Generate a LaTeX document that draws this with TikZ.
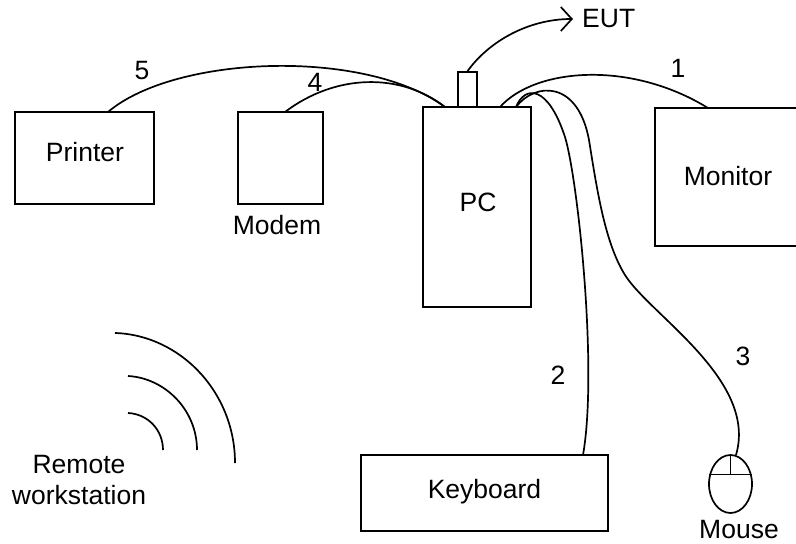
\documentclass[tikz,border=0pt]{standalone}
\usepackage{fontspec}
\setmainfont{Liberation Sans}
\usetikzlibrary{arrows.meta,shapes.geometric}
\tikzset{
	box/.style={draw,line width=1.7pt,rectangle,inner sep=0pt},
	lbl/.style={inner sep=0pt,font=\fontsize{26.5}{31}\selectfont,align=center},
	wire/.style={line width=1.7pt},
}
\begin{document}
\begin{tikzpicture}[x=1pt,y=-1pt]
	\useasboundingbox (0,0) rectangle (796,544);
	% boxes
	\node[box,minimum width=139pt,minimum height=92pt] (printer) at (84.5,158) {};
	\node[box,minimum width=85pt,minimum height=92pt] (modem) at (280.5,158) {};
	\node[box,minimum width=108pt,minimum height=200pt] (pc) at (477,207) {};
	\node[box,minimum width=19pt,minimum height=35pt] (plug) at (467.5,89.5) {};
	\node[box,minimum width=146pt,minimum height=138pt] (monitor) at (728,177) {};
	\node[box,minimum width=247pt,minimum height=76pt] (keyboard) at (484.5,493) {};
	\node[draw,line width=1.7pt,ellipse,inner sep=0pt,minimum width=43pt,minimum height=58pt] (mouse) at (730.5,484) {};
	\draw[wire] (mouse.156) -- (mouse.24);
	\coordinate (split) at (730.5,475);
	\draw[wire] (split) -- (mouse.north);
	% wire ends
	\coordinate (pcA) at (445,107);
	\coordinate (pcB) at (500,107);
	\coordinate (pcC) at (516,107);
	\coordinate (eut) at (573,19);
	\coordinate (prtEnd) at (108,112);
	\coordinate (mdmEnd) at (285,112);
	\coordinate (monEnd) at (708,108);
	\coordinate (kbdEnd) at (583,455);
	\coordinate (musEnd) at (736,455);
	% cables
	\draw[wire] (prtEnd) .. controls (175,55) and (365,48) .. (pcA);
	\draw[wire] (mdmEnd) .. controls (335,74) and (400,72) .. (pcA);
	\draw[wire] (pcB) .. controls (535,68) and (630,60) .. (monEnd);
	\draw[wire] (pcC) .. controls (525,85) and (548,85) .. (565,137) .. controls (578,180) and (598,370) .. (kbdEnd);
	\draw[wire] (pcC) .. controls (535,82) and (578,80) .. (589,140) .. controls (597,190) and (605,243) .. (625,275) .. controls (650,315) and (758,380) .. (musEnd);
	\draw[wire,-{Straight Barb[length=11pt,width=24pt]}] (plug.north) .. controls (490,40) and (530,19) .. (eut);
	% labels
	\node[lbl] (lprinter) at (85,152) {Printer};
	\node[lbl] (lmodem) at (277,225) {Modem};
	\node[lbl] (lpc) at (478,202) {PC};
	\node[lbl] (lmonitor) at (728,176) {Monitor};
	\node[lbl] (lkeyboard) at (484.5,492) {Keyboard};
	\node[lbl] (lmouse) at (739,530) {Mouse};
	\node[lbl] (lremote) at (79,480) {Remote\\workstation};
	\node[lbl,anchor=west] (leut) at (582,19) {EUT};
	\node[lbl] (n5) at (142,71) {5};
	\node[lbl] (n4) at (315,82) {4};
	\node[lbl] (n1) at (678,68) {1};
	\node[lbl] (n2) at (558,375) {2};
	\node[lbl] (n3) at (743,356) {3};
	% remote waves
	\draw[wire] (115,333) .. controls (180,335) and (235,392) .. (235,463);
	\draw[wire] (128,376) .. controls (165,378) and (197,410) .. (197,450);
	\draw[wire] (128,413) .. controls (148,414) and (163,430) .. (163,450);
\end{tikzpicture}
\end{document}
